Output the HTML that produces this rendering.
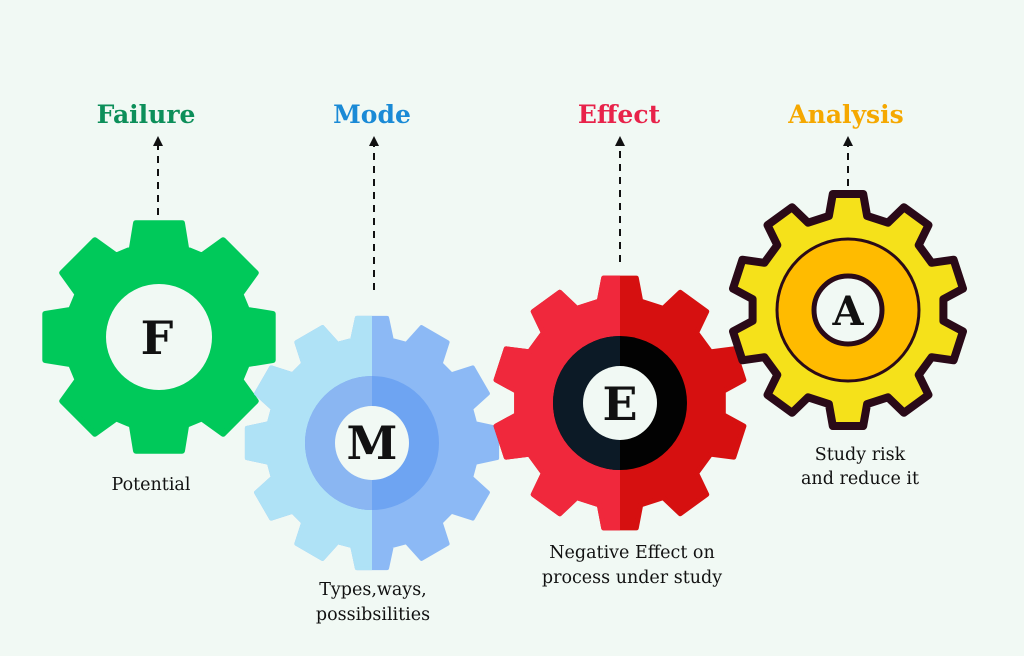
<!DOCTYPE html>
<html><head><meta charset="utf-8"><style>
html,body{margin:0;padding:0;background:#f1f9f4;width:1024px;height:656px;overflow:hidden}
svg{display:block}
text{font-family:"DejaVu Serif","Liberation Serif",serif}
.t{font-weight:bold;font-size:25px;text-anchor:middle}
.s{font-size:17.5px;text-anchor:middle;fill:#111}
.l{font-weight:bold;font-size:46px;text-anchor:middle;fill:#111}
</style></head><body>
<svg id="s" width="1024" height="656" viewBox="0 0 1024 656" xmlns="http://www.w3.org/2000/svg">
<defs>
<clipPath id="lh"><rect x="0" y="0" width="372" height="656"/></clipPath>
<clipPath id="lhE"><rect x="0" y="0" width="620" height="656"/></clipPath>
</defs>
<rect width="1024" height="656" fill="#f1f9f4"/>
<g id="gears"></g>
<g stroke="#111" stroke-width="2" stroke-dasharray="7,6">
<line x1="158" y1="215" x2="158" y2="146"/>
<line x1="374" y1="290" x2="374" y2="146"/>
<line x1="620" y1="262" x2="620" y2="146"/>
<line x1="848" y1="186" x2="848" y2="146"/>
</g>
<g fill="#111">
<path d="M153,136 L163,136 L158,146 z" transform="rotate(180 158 141)"/>
<path d="M369,136 L379,136 L374,146 z" transform="rotate(180 374 141)"/>
<path d="M615,136 L625,136 L620,146 z" transform="rotate(180 620 141)"/>
<path d="M843,136 L853,136 L848,146 z" transform="rotate(180 848 141)"/>
</g>
<text class="t" x="146" y="123" fill="#0d8f5a">Failure</text>
<text class="t" x="372" y="123" fill="#1a8ad6">Mode</text>
<text class="t" x="619" y="123" fill="#e8234a">Effect</text>
<text class="t" x="846" y="123" fill="#f5a800">Analysis</text>
<text class="s" x="151" y="490">Potential</text>
<text class="s" x="373" y="595">Types,ways,</text>
<text class="s" x="373" y="620">possibsilities</text>
<text class="s" x="632" y="558">Negative Effect on</text>
<text class="s" x="632" y="583">process under study</text>
<text class="s" x="860" y="460">Study risk</text>
<text class="s" x="860" y="484">and reduce it</text>
</svg>
<script>
function gear(cx,cy,n,R,r,tipW,rootW,rot){
 var p=[],step=2*Math.PI/n;
 for(var i=0;i<n;i++){
  var a=rot+i*step;
  var pts=[[a-rootW,r],[a-tipW,R],[a+tipW,R],[a+rootW,r]];
  pts.forEach(function(q){p.push((cx+q[1]*Math.sin(q[0])).toFixed(1)+","+(cy-q[1]*Math.cos(q[0])).toFixed(1));});
 }
 return "M"+p.join(" L")+" Z";
}
var g=document.getElementById("gears"),h="";
// F
h+='<path d="'+gear(159,337,8,116,92,0.2,0.3,0)+'" fill="#00c95a" stroke="#00c95a" stroke-width="6" stroke-linejoin="round"/>';
h+='<circle cx="159" cy="337" r="53" fill="#f1f9f4"/>';
h+='<text class="l" x="157" y="354">F</text>';
// M
var mp=gear(372,443,12,126,105,0.12,0.19,0);
h+='<path d="'+mp+'" fill="#8cb9f5" stroke="#8cb9f5" stroke-width="4" stroke-linejoin="round"/>';
h+='<path d="'+mp+'" fill="#afe2f6" stroke="#afe2f6" stroke-width="4" stroke-linejoin="round" clip-path="url(#lh)"/>';
h+='<circle cx="372" cy="443" r="67" fill="#6ea4f2"/>';
h+='<circle cx="372" cy="443" r="67" fill="#8ab6f2" clip-path="url(#lh)"/>';
h+='<circle cx="372" cy="443" r="37" fill="#f1f9f4"/>';
h+='<text class="l" x="372" y="459">M</text>';
// E
var ep=gear(620,403,10,126,104,0.13,0.2,0);
h+='<path d="'+ep+'" fill="#d61010" stroke="#d61010" stroke-width="5" stroke-linejoin="round"/>';
h+='<path d="'+ep+'" fill="#f0283c" stroke="#f0283c" stroke-width="5" stroke-linejoin="round" clip-path="url(#lhE)"/>';
h+='<circle cx="620" cy="403" r="67" fill="#020202"/>';
h+='<circle cx="620" cy="403" r="67" fill="#0c1a26" clip-path="url(#lhE)"/>';
h+='<circle cx="620" cy="403" r="37" fill="#f1f9f4"/>';
h+='<text class="l" x="620" y="420">E</text>';
// A
h+='<path d="'+gear(848,310,10,117,96,0.13,0.2,0)+'" fill="#f5e11a" stroke="#2a0a18" stroke-width="8" stroke-linejoin="round"/>';
h+='<circle cx="848" cy="310" r="71" fill="#ffbb00" stroke="#2a0a18" stroke-width="3"/>';
h+='<circle cx="848" cy="310" r="34" fill="#f1f9f4" stroke="#2a0a18" stroke-width="5"/>';
h+='<text class="l" x="848" y="325" style="font-size:40px">A</text>';
g.innerHTML=h;
</script>
</body></html>
